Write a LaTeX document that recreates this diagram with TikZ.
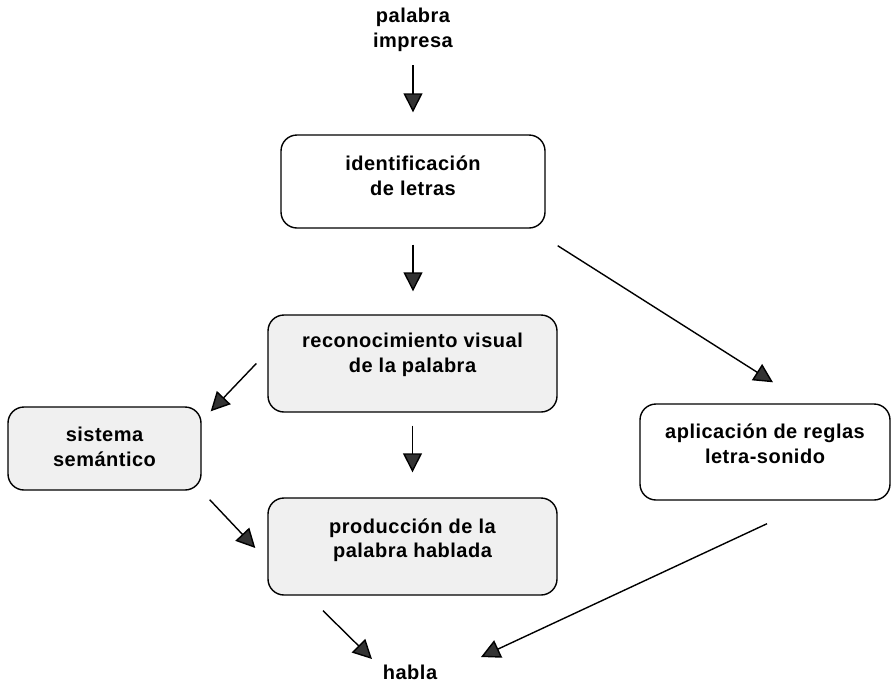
\documentclass[tikz,border=0pt]{standalone}
\usepackage{fontspec}
\setmainfont{Liberation Sans}[LetterSpace=2.5]
\usetikzlibrary{arrows.meta}
\begin{document}
\begin{tikzpicture}[x=1pt,y=-1pt,
  lbl/.style={font=\fontsize{20}{24.5}\selectfont\bfseries, align=center, inner sep=0pt},
  boxw/.style={draw=black, line width=1.4pt, rounded corners=16pt, inner sep=0pt, fill=white},
  boxg/.style={boxw, fill=black!6},
  arr/.style={line width=1.4pt, -{Triangle[length=19pt,width=19pt,fill=black!80]}},
]
\useasboundingbox (0,0) rectangle (892,683);
% boxes
\node[boxw, minimum width=264pt, minimum height=93pt] (idbox) at (413,181.5) {};
\node[boxg, minimum width=289pt, minimum height=97pt] (recbox) at (412.5,363.5) {};
\node[boxg, minimum width=193pt, minimum height=83pt] (sisbox) at (104.5,448.5) {};
\node[boxg, minimum width=289pt, minimum height=97pt] (prodbox) at (412.5,546.5) {};
\node[boxw, minimum width=250pt, minimum height=96pt] (apbox) at (765,452) {};
% texts
\node[lbl] (pal) at (413,30) {palabra\\impresa};
\node[lbl] (idtxt) at (413,176) {identificación\\de letras};
\node[lbl] (rectxt) at (412.5,355) {reconocimiento visual\\de la palabra};
\node[lbl] (sistxt) at (104.5,447) {sistema\\semántico};
\node[lbl] (prodtxt) at (412.5,540) {producción de la\\palabra hablada};
\node[lbl] (aptxt) at (765,444) {aplicación de reglas\\letra-sonido};
\node[lbl] (habla) at (410,672) {habla};
% connectors
\draw[arr] ([shift={(0,35)}]pal.center) -- ([shift={(0,-22)}]idbox.north);
\draw[arr] ([shift={(0,16)}]idbox.south) -- ([shift={(0,-23)}]recbox.north -| idbox.south);
\draw[arr] ([shift={(12,17)}]idbox.south east) -- ([shift={(8,-21)}]apbox.north);
\draw[arr] ([shift={(-11,0)}]recbox.west) -- ([shift={(9,5)}]sisbox.north east);
\draw[arr] ([shift={(0,13)}]recbox.south) -- ([shift={(0,-25)}]prodbox.north);
\draw[arr] ([shift={(8,9)}]sisbox.south east) -- ([shift={(-12,1.5)}]prodbox.west);
\draw[arr] ([shift={(-89.5,15)}]prodbox.south) -- ([shift={(-38,-13)}]habla.center);
\draw[arr] ([shift={(2,23)}]apbox.south) -- ([shift={(71,-15)}]habla.center);
\end{tikzpicture}
\end{document}
